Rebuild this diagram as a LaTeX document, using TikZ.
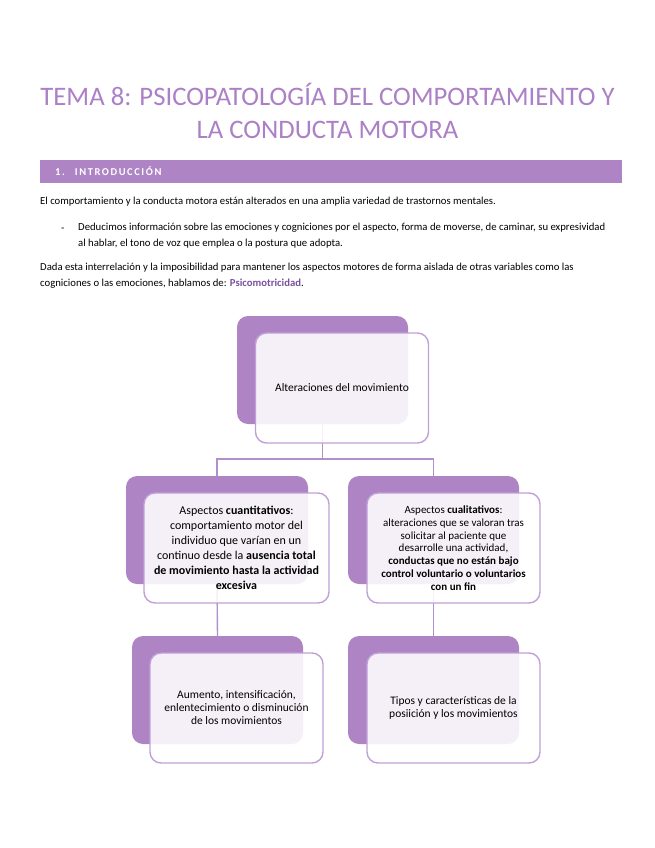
\documentclass[tikz,border=0pt]{standalone}
\usepackage{fontspec}
\setmainfont{Carlito}
\usetikzlibrary{positioning,calc}
\definecolor{TitleColor}{RGB}{172,128,198}
\definecolor{BarColor}{RGB}{174,132,196}
\definecolor{BoxColor}{RGB}{174,132,196}
\definecolor{EdgeColor}{RGB}{192,160,216}
\definecolor{LinkColor}{RGB}{178,142,202}
\definecolor{AccentPurple}{RGB}{122,80,158}
\tikzset{
  backbox/.style={fill=BoxColor, rounded corners=11pt, minimum width=171pt, minimum height=108pt, inner sep=0pt},
  frontbox/.style={draw=EdgeColor, line width=1.4pt, fill=white, fill opacity=0.88, text opacity=1, rounded corners=11pt, minimum width=173pt, minimum height=110pt, align=center, inner sep=2pt},
  link/.style={draw=LinkColor, line width=1.4pt},
  bodytext/.style={font=\fontsize{10.7}{16}\selectfont, align=left, inner sep=0pt}
}

\begin{document}
\begin{tikzpicture}[x=1pt,y=-1pt]
      \useasboundingbox (0,0) rectangle (655,848);
      \node[TitleColor, font=\fontsize{26.7}{32}\selectfont, anchor=base] (title1) at (327.5,106) {TEMA 8: PSICOPATOLOGÍA DEL COMPORTAMIENTO Y};
      \node[TitleColor, font=\fontsize{26.7}{32}\selectfont, anchor=base] (title2) at (327.5,139) {LA CONDUCTA MOTORA};
      \fill[BarColor] (40,160) rectangle (622,183);
      \node[white, font=\fontsize{10.5}{12}\selectfont\bfseries\addfontfeature{LetterSpace=15}, anchor=base west, inner sep=0pt] (sec) at (55,175) {1.\hspace{10pt}INTRODUCCIÓN};
      \node[bodytext, anchor=base west] (intro) at (40,204) {El comportamiento y la conducta motora están alterados en una amplia variedad de trastornos mentales.};
      \node[bodytext, anchor=base west] (dash) at (61,231) {-};
      \node[bodytext, anchor=north west] (bullet) at (78,223) {Deducimos información sobre las emociones y cogniciones por el aspecto, forma de moverse, de caminar, su expresividad\\al hablar, el tono de voz que emplea o la postura que adopta.};
      \node[bodytext, anchor=north west] (para) at (40,263) {Dada esta interrelación y la imposibilidad para mantener los aspectos motores de forma aislada de otras variables como las\\cogniciones o las emociones, hablamos de: \textcolor{AccentPurple}{\bfseries Psicomotricidad}.};
      % back boxes
      \node[backbox] (altback) at (322.5,370) {};
      \node[backbox, minimum width=182pt] (cuantback) at (217,530) {};
      \node[backbox] (cualback) at (433.5,530) {};
      \node[backbox] (aumback) at (217.5,690) {};
      \node[backbox] (tipback) at (433.5,690) {};
      % connectors
      \coordinate (split) at (322.5,459);
      \draw[link] (altback.south) -- (split);
      \draw[link] (cuantback.north) |- (split) -| (cualback.north);
      \draw[link] (cuantback.south) -- (aumback.north);
      \draw[link] (cualback.south) -- (tipback.north);
      % front boxes
      \node[frontbox, font=\fontsize{11.5}{14}\selectfont] (alt) at ($(altback)+(19.5,18)$) {Alteraciones del movimiento};
      \node[frontbox, minimum width=185pt, font=\fontsize{12}{15}\selectfont] (cuant) at ($(cuantback)+(19.5,18)$) {Aspectos \textbf{cuantitativos}:\\comportamiento motor del\\individuo que varían en un\\continuo desde la \textbf{ausencia total}\\\textbf{de movimiento hasta la actividad}\\\textbf{excesiva}};
      \node[frontbox, font=\fontsize{11}{12.8}\selectfont] (cual) at ($(cualback)+(20,18)$) {Aspectos \textbf{cualitativos}:\\alteraciones que se valoran tras\\solicitar al paciente que\\desarrolle una actividad,\\\textbf{conductas que no están bajo}\\\textbf{control voluntario o voluntarios}\\\textbf{con un fin}};
      \node[frontbox, font=\fontsize{11.5}{13}\selectfont] (aum) at ($(aumback)+(19,18)$) {Aumento, intensificación,\\enlentecimiento o disminución\\de los movimientos};
      \node[frontbox, font=\fontsize{11.5}{13}\selectfont] (tip) at ($(tipback)+(20,18)$) {Tipos y características de la\\posiición y los movimientos};
    \end{tikzpicture}
\end{document}
